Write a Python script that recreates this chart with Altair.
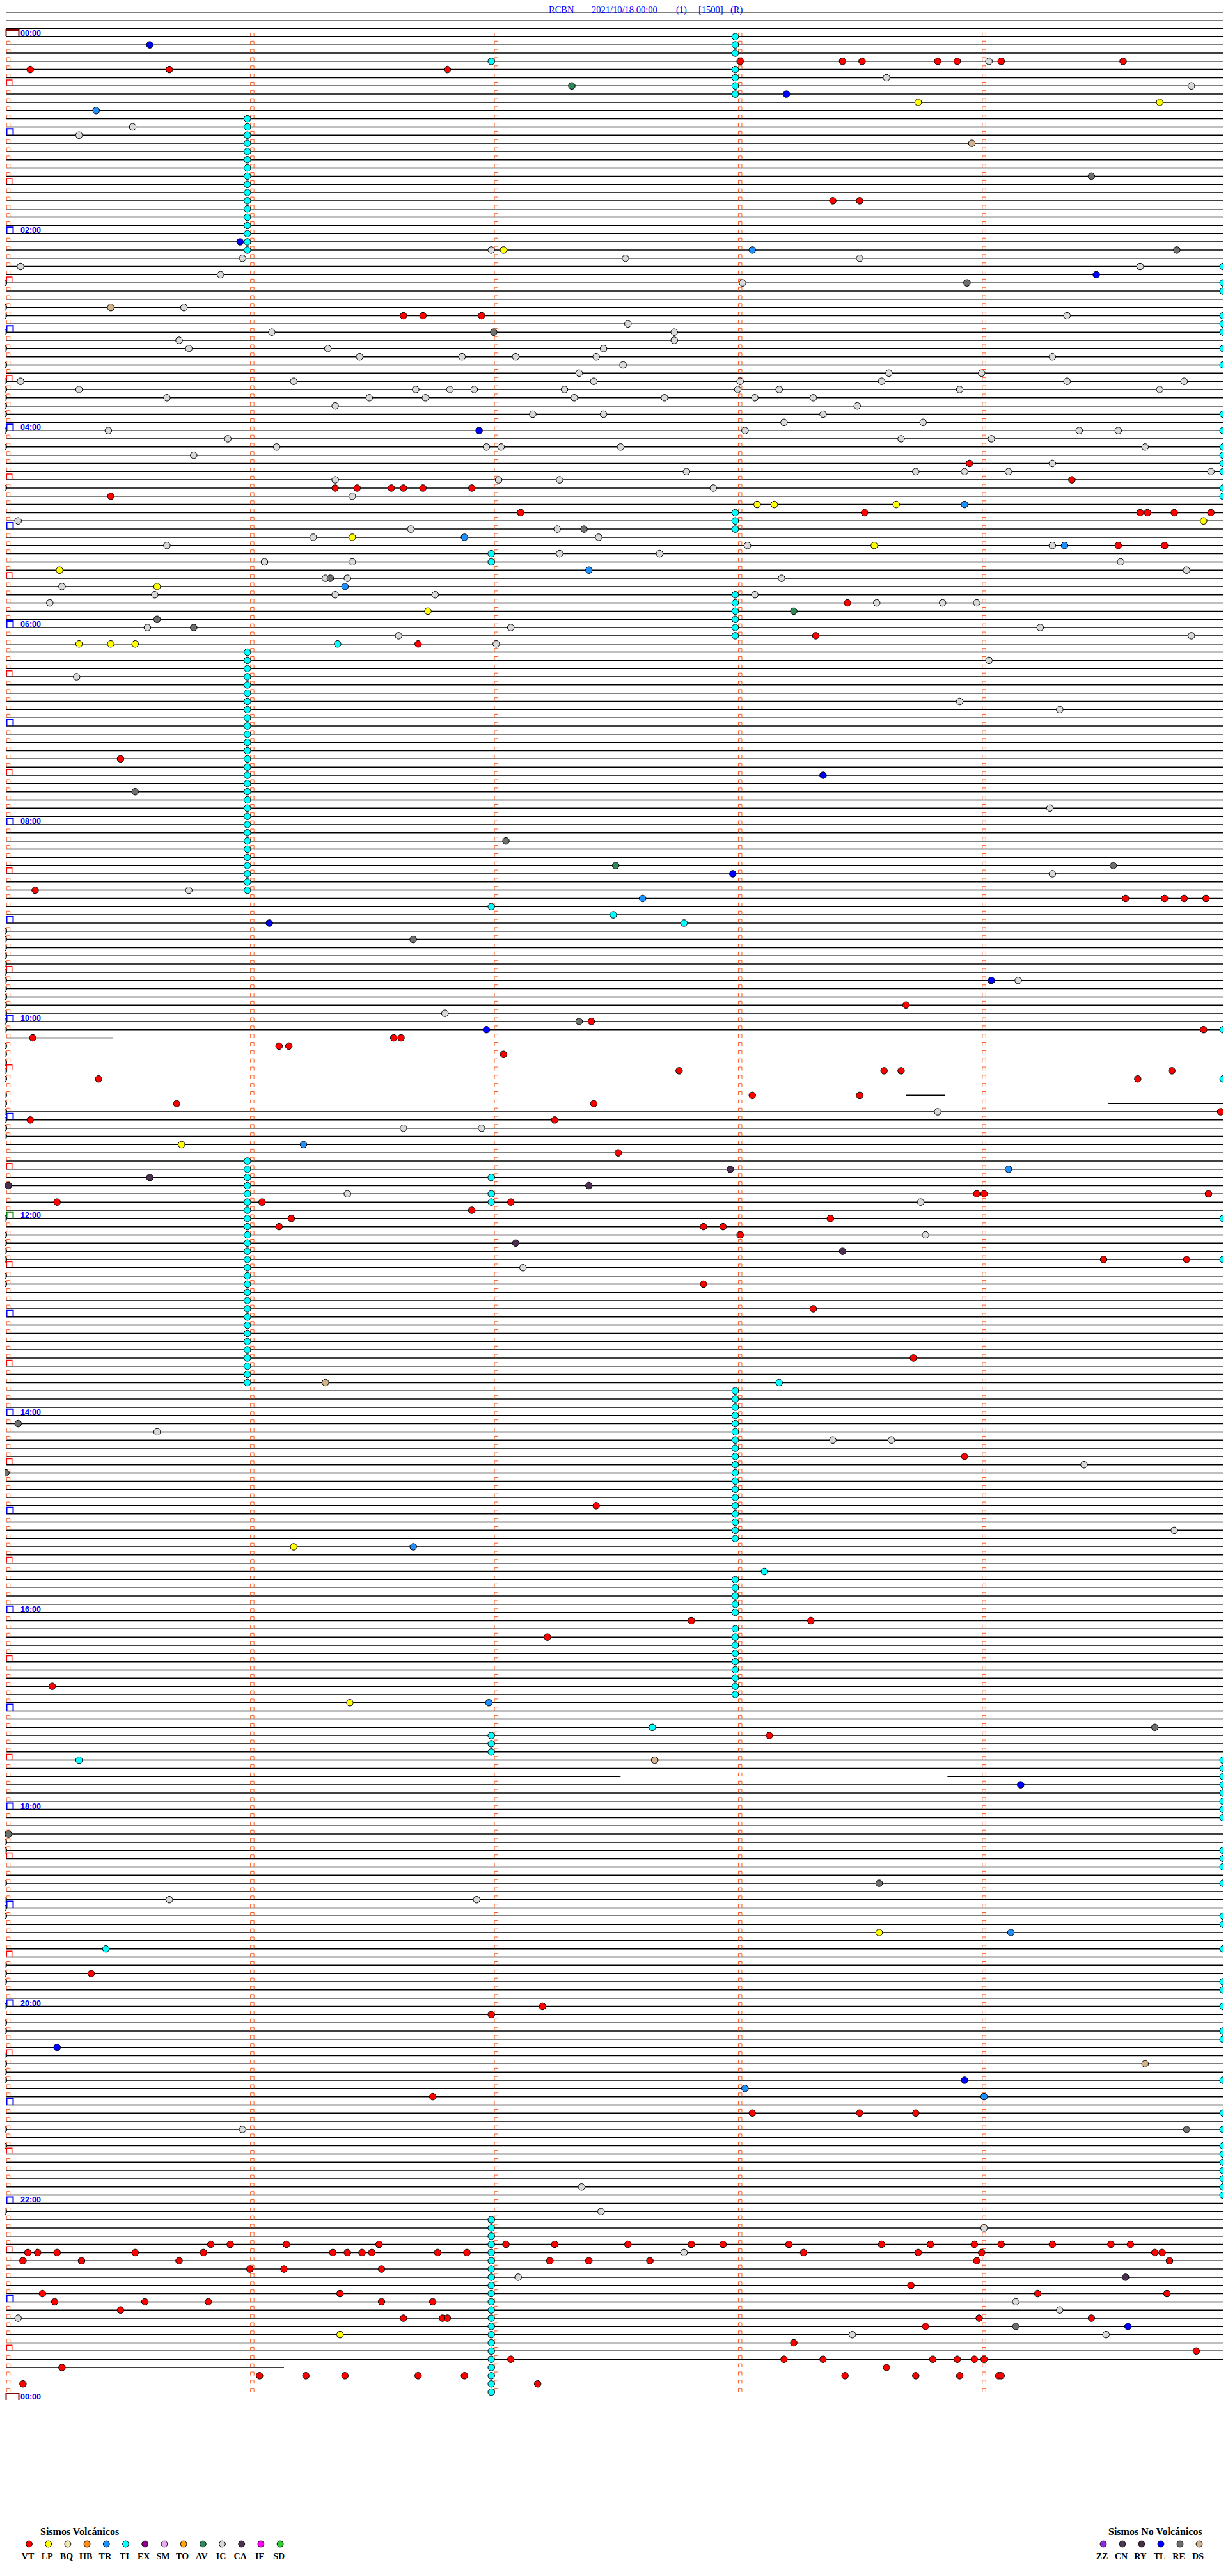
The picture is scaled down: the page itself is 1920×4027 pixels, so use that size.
import altair as alt
import pandas as pd

# ------------------------------------------------------------------ data
TITLE_PARTS = ["RCBN", "2021/10/18 00:00", "(1)", "[1500]", "(R)"]
HOUR_LABELS = ["00:00", "02:00", "04:00", "06:00", "08:00", "10:00", "12:00",
               "14:00", "16:00", "18:00", "20:00", "22:00", "00:00"]
N_ROWS = 288            # 5-minute traces from 00:00 to 24:00
MINUTE_TICKS = [0, 1, 2, 3, 4]

VOLC_TYPES = ["VT", "LP", "BQ", "HB", "TR", "TI", "EX", "SM", "TO", "AV", "IC", "CA", "IF", "SD"]
VOLC_COLORS = ["#FF0000", "#FFFF00", "#EEE8AA", "#FF8C1A", "#1E90FF", "#00FFFF", "#8B008B",
               "#EEAAEE", "#FFA500", "#2E8B57", "#D8D8D8", "#4B2F4F", "#FF00FF", "#32CD32"]
NONVOLC_TYPES = ["ZZ", "CN", "RY", "TL", "RE", "DS"]
NONVOLC_COLORS = ["#8A2BE2", "#4B3B5B", "#4B2B45", "#0000FF", "#6B706B", "#D2B48C"]

# trace rows drawn (row index = 5-minute line), full rows and partial pieces
TRACE_FULL_RANGES = [(-3, 121), (131, 211), (213, 283)]
TRACE_PARTIAL = [(122, None, 0.43), (129, 3.68, 3.84), (130, 4.51, None),
                 (212, None, 2.51), (212, 3.85, None), (284, None, 1.13)]

# events: row -> minute offsets inside that 5-minute row
VT = {3: [3.00, 3.42, 3.50, 3.81, 3.89, 4.07, 4.57], 4: [0.09, 0.66, 1.80], 20: [3.38, 3.49],
      34: [1.62, 1.70, 1.94], 52: [3.94], 54: [4.36], 55: [1.34, 1.43, 1.57, 1.62, 1.70, 1.90],
      56: [0.42], 58: [2.10, 3.51, 4.64, 4.67, 4.78, 4.93], 62: [4.55, 4.74], 69: [3.44],
      73: [3.31], 74: [1.68], 88: [0.46], 104: [0.11], 105: [4.58, 4.74, 4.82, 4.91],
      118: [3.68], 120: [2.39], 121: [4.90], 122: [0.10, 1.58, 1.61], 123: [1.11, 1.15],
      124: [2.03], 126: [2.75, 3.59, 3.66, 4.77], 127: [0.37, 4.63], 129: [3.05, 3.49],
      130: [0.69, 2.40], 131: [4.97], 132: [0.09, 2.24], 136: [2.50], 141: [3.97, 4.00, 4.92],
      142: [0.20, 1.04, 2.06], 143: [1.90], 144: [1.16, 3.37], 145: [1.11, 2.85, 2.93],
      146: [3.00], 149: [4.49, 4.83], 152: [2.85], 155: [3.30], 161: [3.71], 173: [3.92],
      179: [2.41], 193: [2.80, 3.29], 195: [2.21], 201: [0.18], 207: [3.12], 236: [0.34],
      240: [2.19], 241: [1.98], 251: [1.74], 253: [3.05, 3.49, 3.72],
      269: [0.83, 0.91, 1.14, 1.52, 2.04, 2.24, 2.54, 2.80, 2.93, 3.20, 3.58, 3.78, 3.96, 4.07, 4.28, 4.52, 4.60],
      270: [0.08, 0.12, 0.20, 0.52, 0.80, 1.33, 1.39, 1.45, 1.49, 1.76, 1.88, 3.26, 3.73, 3.99, 4.70, 4.73],
      271: [0.06, 0.30, 0.70, 2.22, 2.38, 2.63, 3.97, 4.76], 272: [0.99, 1.13, 1.53], 274: [3.70],
      275: [0.14, 1.36, 4.22, 4.75], 276: [0.19, 0.56, 0.82, 1.53, 1.74], 277: [0.46],
      278: [1.62, 1.78, 1.80, 3.98, 4.44], 279: [3.76], 281: [3.22], 282: [4.87],
      283: [2.06, 3.18, 3.34, 3.79, 3.89, 3.96, 4.00], 284: [0.22, 3.60],
      285: [1.03, 1.22, 1.38, 1.68, 1.87, 3.43, 3.72, 3.90, 4.06, 4.07], 286: [0.06, 2.17]}
LP = {8: [3.73, 4.72], 26: [2.03], 57: [3.07, 3.14, 3.64], 59: [4.90], 61: [1.41], 62: [3.55],
      65: [0.21], 67: [0.61], 70: [1.72], 74: [0.29, 0.42, 0.52], 135: [0.71], 184: [1.17],
      203: [1.40], 231: [3.57], 280: [1.36]}
TR = {9: [0.36], 26: [3.05], 57: [3.92], 61: [1.87], 62: [4.33], 65: [2.38], 67: [1.38],
      105: [2.60], 135: [1.21], 138: [4.10], 184: [1.66], 203: [1.97], 231: [4.11], 250: [3.02],
      251: [4.00]}
TI = {0: [2.98], 1: [2.98], 2: [2.98], 3: [1.98], 4: [2.98], 5: [2.98], 6: [2.98], 7: [2.98],
      10: [0.98], 11: [0.98], 12: [0.98], 13: [0.98], 14: [0.98], 15: [0.98], 16: [0.98],
      17: [0.98], 18: [0.98], 19: [0.98], 20: [0.98], 21: [0.98], 22: [0.98], 23: [0.98],
      24: [0.98], 25: [0.98], 26: [0.98],
      28: [4.98], 30: [-0.02, 4.98], 31: [4.98], 33: [-0.02], 34: [-0.02, 4.98], 35: [4.98],
      36: [-0.02, 4.98], 38: [-0.02, 4.98], 40: [-0.02, 4.98], 42: [-0.02], 43: [-0.02],
      44: [-0.02], 45: [-0.02], 46: [-0.02, 4.98], 48: [-0.02, 4.98], 50: [-0.02, 4.98],
      51: [4.98], 52: [4.98], 53: [4.98], 55: [-0.02, 4.98], 56: [4.98],
      58: [2.98], 59: [2.98], 60: [2.98], 63: [1.98], 64: [1.98], 68: [2.98], 69: [2.98],
      70: [2.98], 71: [2.98], 72: [2.98], 73: [2.98], 74: [1.35],
      75: [0.98], 76: [0.98], 77: [0.98], 78: [0.98], 79: [0.98], 80: [0.98], 81: [0.98],
      82: [0.98], 83: [0.98], 84: [0.98], 85: [0.98], 86: [0.98], 87: [0.98], 88: [0.98],
      89: [0.98], 90: [0.98], 91: [0.98], 92: [0.98], 93: [0.98], 94: [0.98], 95: [0.98],
      96: [0.98], 97: [0.98], 98: [0.98], 99: [0.98], 100: [0.98], 101: [0.98], 102: [0.98],
      103: [0.98], 104: [0.98],
      106: [1.98], 107: [2.48], 108: [2.77],
      109: [-0.02], 110: [-0.02], 111: [-0.02], 112: [-0.02], 113: [-0.02], 114: [-0.02],
      115: [-0.02], 116: [-0.02], 117: [-0.02], 118: [-0.02], 119: [-0.02], 120: [-0.02],
      121: [-0.02, 4.98], 123: [-0.02], 124: [-0.02], 125: [-0.02], 126: [-0.02],
      127: [-0.02, 4.98], 129: [-0.02], 130: [-0.02], 131: [-0.02], 132: [-0.02], 133: [-0.02],
      134: [-0.02],
      137: [0.98], 138: [0.98], 139: [0.98, 1.98], 140: [0.98], 141: [0.98, 1.98],
      142: [0.98, 1.98], 143: [0.98], 144: [-0.02, 0.98, 4.98], 145: [0.98], 146: [-0.02, 0.98],
      147: [-0.02, 0.98], 148: [-0.02, 0.98], 149: [-0.02, 0.98, 4.98], 150: [0.98],
      151: [-0.02, 0.98], 152: [-0.02, 0.98], 153: [0.98], 154: [0.98], 155: [0.98],
      156: [0.98], 157: [0.98], 158: [0.98], 159: [0.98], 160: [0.98], 161: [0.98],
      162: [0.98], 163: [0.98], 164: [0.98, 3.16],
      165: [2.98], 166: [2.98], 167: [2.98], 168: [2.98], 169: [2.98], 170: [2.98], 171: [2.98],
      172: [2.98], 173: [2.98], 174: [2.98], 175: [2.98], 176: [2.98], 177: [2.98], 178: [2.98],
      179: [2.98], 180: [2.98], 181: [2.98], 182: [2.98], 183: [2.98],
      187: [3.10], 188: [2.98], 189: [2.98], 190: [2.98], 191: [2.98], 192: [2.98],
      194: [2.98], 195: [2.98], 196: [2.98], 197: [2.98], 198: [2.98], 199: [2.98], 200: [2.98],
      201: [2.98], 202: [2.98],
      206: [2.64], 207: [1.98], 208: [1.98], 209: [1.98], 210: [0.29, 4.98], 211: [4.98],
      212: [4.98], 213: [4.98], 214: [4.98], 215: [4.98], 216: [4.98], 217: [4.98],
      219: [-0.02], 220: [-0.02], 221: [-0.02, 4.98], 222: [4.98], 223: [4.98],
      225: [-0.02, 4.98], 227: [-0.02], 228: [-0.02], 229: [-0.02, 4.98], 230: [4.98],
      233: [0.40, 4.98], 235: [-0.02], 236: [-0.02], 237: [-0.02, 4.98], 238: [4.98],
      240: [-0.02, 4.98], 242: [-0.02], 243: [-0.02, 4.98], 244: [4.98], 246: [-0.02],
      247: [-0.02], 248: [-0.02], 249: [-0.02, 4.98], 253: [4.98], 255: [-0.02, 4.98],
      257: [-0.02, 4.98], 258: [4.98], 259: [4.98], 260: [4.98], 261: [4.98], 262: [4.98],
      263: [4.98], 265: [-0.02],
      266: [1.98], 267: [1.98], 268: [1.98], 269: [1.98], 270: [1.98], 271: [1.98], 272: [1.98],
      273: [1.98], 274: [1.98], 275: [1.98], 276: [1.98], 277: [1.98], 278: [1.98], 279: [1.98],
      280: [1.98], 281: [1.98], 282: [1.98], 283: [1.98], 284: [1.98], 285: [1.98], 286: [1.98],
      287: [1.98]}
AV = {6: [2.31], 70: [3.22], 101: [2.49]}
IC = {3: [4.02], 5: [3.60], 6: [4.85], 11: [0.51], 12: [0.29], 26: [1.98],
      27: [0.96, 2.53, 3.49], 28: [0.05, 4.64], 29: [0.87], 30: [3.01], 33: [0.72], 34: [4.34],
      35: [2.54], 36: [1.08, 2.73], 37: [0.70, 2.73], 38: [0.74, 1.31, 2.44],
      39: [1.44, 1.86, 2.08, 2.41, 4.28], 40: [2.52], 41: [2.34, 3.61, 3.99],
      42: [0.05, 1.17, 2.40, 3.00, 3.58, 4.34, 4.82],
      43: [0.29, 1.67, 1.81, 1.91, 2.28, 2.99, 3.16, 3.90, 4.72],
      44: [0.65, 1.48, 1.71, 2.32, 2.69, 3.06, 3.30], 45: [1.34, 3.48], 46: [2.15, 2.44, 3.34],
      47: [3.18, 3.75], 48: [0.41, 3.02, 4.39, 4.55], 49: [0.90, 3.66, 4.03],
      50: [1.10, 1.96, 2.02, 2.51, 4.66], 51: [0.76], 52: [4.28],
      53: [2.78, 3.72, 3.92, 4.10, 4.93], 54: [1.34, 2.01, 2.26], 55: [2.89], 56: [1.41],
      59: [0.04], 60: [1.65, 2.25], 61: [1.25, 2.42], 62: [0.65, 3.03, 4.28], 63: [2.26, 2.67],
      64: [1.05, 1.41, 4.56], 65: [4.83], 66: [1.30, 1.39, 3.17], 67: [0.22],
      68: [0.60, 1.34, 1.75, 3.06], 69: [0.17, 3.56, 3.83, 3.97], 72: [0.57, 2.06, 4.23],
      73: [1.60, 4.85], 74: [2.00], 76: [4.02], 78: [0.28], 81: [3.90], 82: [4.31], 94: [4.27],
      102: [4.28], 104: [0.74], 115: [4.14], 119: [1.79], 131: [3.81], 133: [1.62, 1.94],
      141: [1.39], 142: [3.74], 146: [3.76], 150: [2.11], 170: [0.61], 171: [3.38, 3.62],
      174: [4.41], 182: [4.78], 227: [0.66, 1.92], 255: [0.96], 262: [2.35], 265: [2.43],
      267: [4.00], 270: [2.77], 273: [2.09], 276: [4.13], 277: [4.31], 278: [0.04],
      280: [3.46, 4.50]}
CA = {138: [2.96], 139: [0.58], 140: [0.00, 2.38], 147: [2.08], 148: [3.42], 273: [4.58]}
TL = {1: [0.58], 7: [3.19], 25: [0.95], 29: [4.46], 48: [1.93], 90: [3.34], 102: [2.97],
      108: [1.07], 115: [4.03], 121: [1.96], 213: [4.15], 245: [0.20], 249: [3.92], 279: [4.59]}
RE = {17: [4.44], 26: [4.79], 30: [3.93], 36: [1.99], 60: [2.36], 66: [1.32], 71: [0.61],
      72: [0.76], 92: [0.52], 98: [2.04], 101: [4.53], 110: [1.66], 120: [2.34], 169: [0.04],
      175: [-0.01], 206: [4.70], 219: [0.00], 225: [3.57], 255: [4.83], 279: [4.13]}
DS = {13: [3.95], 33: [0.42], 164: [1.30], 210: [2.65], 247: [4.66]}

EVENTS = {"IC": IC, "TI": TI, "VT": VT, "LP": LP, "TR": TR, "AV": AV, "CA": CA,
          "TL": TL, "RE": RE, "DS": DS}

# ------------------------------------------------------------------ layout (pixels)
X0, PXM = 13.0, 381.4      # pixel of minute 0, pixels per minute
Y0, PXR = 57.3, 12.83      # pixel of row 0 trace, pixels per row
W, H = 1904, 4000
OFF = 8


def px2min(x):
    return (x - X0) / PXM


def py2row(y):
    return (y - Y0) / PXR


xs = alt.Scale(domain=[px2min(OFF), px2min(OFF + W)], nice=False, zero=False)
ys = alt.Scale(domain=[py2row(OFF), py2row(OFF + H)], nice=False, zero=False, reverse=True)
X = alt.X("x:Q", scale=xs, axis=None)
Y = alt.Y("y:Q", scale=ys, axis=None)

ALL_TYPES = VOLC_TYPES + NONVOLC_TYPES
ALL_COLORS = VOLC_COLORS + NONVOLC_COLORS
FILL = alt.Fill("type:N", scale=alt.Scale(domain=ALL_TYPES, range=ALL_COLORS), legend=None)

# ------------------------------------------------------------------ traces
LSTART, LEND = px2min(10), px2min(1930)
line_rows = [{"x": px2min(0), "x2": LEND, "y": -4}]
for a, b in TRACE_FULL_RANGES:
    for r in range(a, b + 1):
        line_rows.append({"x": LSTART, "x2": LEND, "y": r})
for r, m0, m1 in TRACE_PARTIAL:
    line_rows.append({"x": LSTART if m0 is None else m0,
                      "x2": LEND if m1 is None else m1, "y": r})
lines = alt.Chart(pd.DataFrame(line_rows)).mark_rule(
    color="black", strokeWidth=1.5, clip=True).encode(x=X, x2="x2:Q", y=Y)

# ------------------------------------------------------------------ minute markers
OPEN_SQ = "M-1,1L-1,-1L1,-1L1,1"
OPEN_WIDE = "M-1,0.5L-1,-0.5L1,-0.5L1,0.5"
mk = []
for r in range(N_ROWS):
    for m in MINUTE_TICKS:
        if m == 0 and r % 6 == 0:
            continue
        mk.append({"x": m, "y": r - 3.1 / PXR})
markers = alt.Chart(pd.DataFrame(mk)).mark_point(
    shape=OPEN_SQ, filled=False, size=30, strokeWidth=1, color="#FF5A1F", opacity=1
).encode(x=X, y=Y)

hour_blue = [{"x": px2min(15.5), "y": r - 5.0 / PXR} for r in range(12, N_ROWS, 12) if r != 144]
hour_green = [{"x": px2min(15.5), "y": 144 - 5.0 / PXR}]
half_red = [{"x": px2min(14.5), "y": r - 5.0 / PXR} for r in range(6, N_ROWS, 12)]
day_box = [{"x": px2min(19.5), "y": r - 5.3 / PXR} for r in (0, N_ROWS)]

b_blue = alt.Chart(pd.DataFrame(hour_blue)).mark_point(
    shape=OPEN_SQ, filled=False, size=100, strokeWidth=2, color="#0000FF", opacity=1).encode(x=X, y=Y)
b_green = alt.Chart(pd.DataFrame(hour_green)).mark_point(
    shape=OPEN_SQ, filled=False, size=100, strokeWidth=2, color="#008000", opacity=1).encode(x=X, y=Y)
b_red = alt.Chart(pd.DataFrame(half_red)).mark_point(
    shape=OPEN_SQ, filled=False, size=70, strokeWidth=1.5, color="#FF0000", opacity=1).encode(x=X, y=Y)
b_day = alt.Chart(pd.DataFrame(day_box)).mark_point(
    shape=OPEN_WIDE, filled=False, size=400, strokeWidth=2, color="#800000", opacity=1).encode(x=X, y=Y)

hl = pd.DataFrame({"label": HOUR_LABELS,
                   "x": [px2min(32)] * len(HOUR_LABELS),
                   "y": [k * 24 - 1.0 / PXR for k in range(len(HOUR_LABELS))]})
hour_text = alt.Chart(hl).mark_text(
    align="left", baseline="alphabetic", font="Liberation Sans", fontSize=12.5,
    fontWeight="bold", color="#0000FF").encode(x=X, y=Y, text="label:N")

# ------------------------------------------------------------------ title
title_x = [858, 925, 1057, 1092, 1142]
tt = pd.DataFrame({"label": TITLE_PARTS, "x": [px2min(v) for v in title_x],
                   "y": [py2row(8.5)] * len(TITLE_PARTS)})
title = alt.Chart(tt).mark_text(
    align="left", baseline="top", font="Liberation Serif", fontSize=14.5,
    color="#0000FF").encode(x=X, y=Y, text="label:N")

# ------------------------------------------------------------------ events
ev = []
for t, d in EVENTS.items():
    for r, mins in d.items():
        for m in mins:
            ev.append({"type": t, "x": m, "y": r})
events = alt.Chart(pd.DataFrame(ev)).mark_circle(
    size=110, stroke="black", strokeWidth=1, opacity=1).encode(x=X, y=Y, fill=FILL)

# ------------------------------------------------------------------ legend
leg = []
for k, t in enumerate(VOLC_TYPES):
    leg.append({"type": t, "cx": 45.5 + 30.2 * k})
for k, t in enumerate(NONVOLC_TYPES):
    leg.append({"type": t, "cx": 1725 + 30.0 * k})
legdf = pd.DataFrame(leg)
legdf["x"] = legdf["cx"].map(px2min)
legdf["y"] = py2row(3977)
leg_dots = alt.Chart(legdf).mark_circle(
    size=95, stroke="black", strokeWidth=1, opacity=1).encode(x=X, y=Y, fill=FILL)
labdf = legdf.copy()
labdf["x"] = (labdf["cx"] - 2).map(px2min)
labdf["y"] = py2row(4001)
leg_lab = alt.Chart(labdf).mark_text(
    align="center", baseline="alphabetic", font="Liberation Serif", fontSize=14,
    fontWeight="bold", color="black").encode(x=X, y=Y, text="type:N")
heads = pd.DataFrame({"label": ["Sismos Volcánicos", "Sismos No Volcánicos"],
                      "x": [px2min(63), px2min(1733)],
                      "y": [py2row(3963), py2row(3963)]})
leg_head = alt.Chart(heads).mark_text(
    align="left", baseline="alphabetic", font="Liberation Serif", fontSize=16,
    fontWeight="bold", color="black").encode(x=X, y=Y, text="label:N")

chart = alt.layer(
    lines, markers, b_blue, b_green, b_red, b_day, hour_text, title,
    events, leg_dots, leg_lab, leg_head
).properties(
    width=W, height=H, padding=0, autosize=alt.AutoSizeParams(type="none"),
    background="white"
).configure_view(strokeWidth=0)

chart.save("out.html", embed_options={"renderer": "svg", "actions": False})
